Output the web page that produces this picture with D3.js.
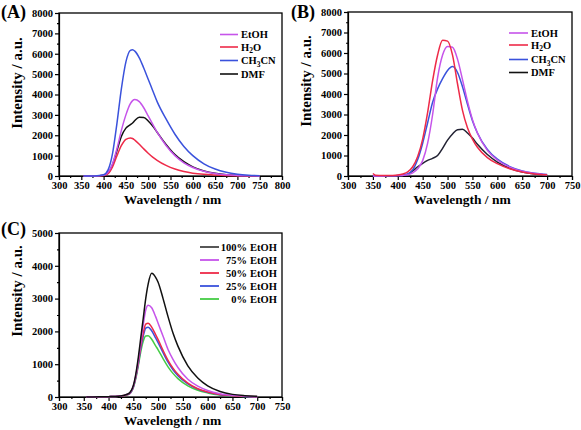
<!DOCTYPE html>
<html><head><meta charset="utf-8">
<script src="https://cdn.jsdelivr.net/npm/d3@7"></script>
<style>body{margin:0;background:#fff}svg{display:block}text{font-family:"Liberation Serif","Times New Roman",serif;font-weight:bold}</style>
</head><body><svg id="c" width="581" height="430"></svg>
<script>
// ---------- Data ----------
const wlA = [355,380,400,410,420,430,440,450,460,465,470,480,490,500,510,520,540,560,580,600,625,650,675,700,725,750];
const aEtOH  = [0,5,40,180,600,1350,2250,3000,3550,3700,3750,3650,3350,2950,2550,2150,1500,1000,650,420,230,120,60,30,10,5];
const aH2O   = [0,5,30,120,450,1000,1500,1800,1870,1840,1760,1560,1330,1120,930,770,520,340,220,140,80,45,20,10,5,0];
const aCH3CN = [0,5,60,300,1100,2600,4300,5600,6170,6200,6130,5800,5300,4750,4200,3650,2800,2050,1450,1000,600,340,180,90,40,15];
const aDMF   = [0,5,30,150,550,1250,1950,2350,2520,2600,2720,2880,2870,2700,2450,2150,1550,1050,700,450,250,130,60,30,10,5];

const wlB = [350,355,370,390,400,410,420,430,440,450,460,470,480,490,500,510,520,530,540,550,560,580,600,625,650,675,700];
const bH2O   = [120,40,20,30,50,100,200,450,950,1800,3100,4650,5900,6620,6580,5900,4500,3200,2350,1800,1400,900,600,350,190,100,55];
const bEtOH  = [0,0,5,10,20,30,60,150,350,750,1600,3000,4800,5900,6320,6280,5700,4700,3650,2750,2100,1250,780,430,230,120,60];
const bCH3CN = [0,0,5,10,20,40,100,300,800,1600,2600,3600,4250,4750,5150,5340,5050,4350,3500,2700,2100,1300,820,460,250,130,70];
const bDMF   = [0,0,5,10,10,20,80,250,450,620,760,860,1000,1350,1750,2050,2260,2280,2100,1850,1550,1050,680,380,200,100,50];

const wlC = [355,380,400,420,440,450,455,460,465,470,475,480,487,495,500,510,520,530,540,560,580,600,625,650,675,700];
const c100 = [0,5,10,20,100,350,700,1200,1800,2400,3000,3450,3770,3650,3500,3000,2450,1950,1550,950,580,340,170,80,40,20];
const c75  = [0,5,10,20,90,330,650,1100,1650,2200,2650,2800,2720,2450,2250,1850,1450,1150,900,540,330,200,100,50,25,10];
const c50  = [0,5,10,20,85,320,620,1050,1550,1950,2220,2250,2130,1900,1750,1420,1120,880,690,420,250,150,75,40,20,10];
const c25  = [0,5,10,20,80,300,600,1000,1480,1850,2100,2130,2020,1800,1660,1350,1060,830,650,400,240,145,72,38,18,8];
const c0   = [0,5,10,20,75,280,560,950,1380,1700,1860,1870,1760,1560,1440,1170,920,720,560,340,205,125,62,32,15,7];

const xTicksA = [300,350,400,450,500,550,600,650,700,750,800];
const xTicksBC = [300,350,400,450,500,550,600,650,700,750];
const yTicksAB = [0,1000,2000,3000,4000,5000,6000,7000,8000];
const yTicksC = [0,1000,2000,3000,4000,5000];

const legendAB = [["EtOH","#c654ea"],["H2O","#ee2a48"],["CH3CN","#3a52dc"],["DMF","#111111"]];
const legendCpct = ["100%","75%","50%","25%","0%"];
const legendCcol = ["#444444","#c654ea","#ee2a48","#3a52dc","#44cc44"];

// ---------- Drawing ----------
const svg = d3.select("#c");

function panel(o){
  const g = svg.append("g");
  const x = d3.scaleLinear().domain(o.xDom).range([o.x0,o.x1]);
  const y = d3.scaleLinear().domain(o.yDom).range([o.y1,o.y0]);
  const xStep = o.xTicks[1]-o.xTicks[0], yStep = o.yTicks[1]-o.yTicks[0];
  const xMinor = o.xTicks.slice(0,-1).map(v=>v+xStep/2);
  const yMinor = o.yTicks.slice(0,-1).map(v=>v+yStep/2);
  g.append("g").attr("transform",`translate(0,${o.y1})`)
    .call(d3.axisBottom(x).tickValues(xMinor).tickSize(2).tickFormat(""))
    .call(a=>a.select(".domain").remove());
  g.append("g").attr("transform",`translate(${o.x0},0)`)
    .call(d3.axisLeft(y).tickValues(yMinor).tickSize(2).tickFormat(""))
    .call(a=>a.select(".domain").remove());
  const xa = g.append("g").attr("transform",`translate(0,${o.y1})`)
    .call(d3.axisBottom(x).tickValues(o.xTicks).tickSize(4).tickPadding(2).tickFormat(d3.format("d")));
  const ya = g.append("g").attr("transform",`translate(${o.x0},0)`)
    .call(d3.axisLeft(y).tickValues(o.yTicks).tickSize(4).tickPadding(2).tickFormat(d3.format("d")));
  [xa,ya].forEach(a=>{a.selectAll("text").style("font-family","Liberation Serif").style("font-weight","bold").style("font-size","10.5px").attr("fill","#000");});
  g.selectAll(".tick line").attr("stroke","#000").attr("stroke-width",1.2);
  g.selectAll(".domain").attr("stroke","#000").attr("stroke-width",1.2);
  g.append("rect").attr("x",o.x0).attr("y",o.y0).attr("width",o.x1-o.x0).attr("height",o.y1-o.y0)
    .attr("fill","none").attr("stroke","#000").attr("stroke-width",1.3);
  const line = d3.line().curve(d3.curveMonotoneX).x(d=>x(d[0])).y(d=>y(d[1]));
  o.series.forEach(s=>{
    g.append("path").datum(s.wl.map((w,i)=>[w,s.v[i]])).attr("d",line)
      .attr("fill","none").attr("stroke",s.c).attr("stroke-width",1.5);
  });
  g.append("text").attr("x",(o.x0+o.x1)/2+2).attr("y",o.y1+28).attr("text-anchor","middle")
    .style("font-size","13.5px").text("Wavelength / nm");
  g.append("text").attr("transform",`translate(${o.x0-37},${o.ty}) rotate(-90)`).attr("text-anchor","middle")
    .style("font-size","15px").text("Intensity / a.u.");
  g.append("text").attr("x",o.lx).attr("y",o.ly).style("font-size","18px").text(o.label);
  return {g,x,y};
}

function subText(sel, label){
  const m = label.match(/^([A-Z]+)(\d)(.*)$/);
  if(m){
    sel.append("tspan").text(m[1]);
    sel.append("tspan").attr("dy",2.5).style("font-size","7.5px").text(m[2]);
    sel.append("tspan").attr("dy",-2.5).text(m[3]);
  } else sel.text(label);
}

function legendAB_(g, lx0, lx1, tx, ys){
  legendAB.forEach((it,i)=>{
    g.append("line").attr("x1",lx0).attr("x2",lx1).attr("y1",ys[i]).attr("y2",ys[i]).attr("stroke",it[1]).attr("stroke-width",1.6);
    const t = g.append("text").attr("x",tx).attr("y",ys[i]+3.5).style("font-size","10.5px");
    subText(t,it[0]);
  });
}

const A = panel({x0:59,x1:282,y0:13,y1:176,xDom:[300,800],yDom:[0,8000],xTicks:xTicksA,yTicks:yTicksAB,
  label:"(A)",lx:1,ly:18,ty:83,
  series:[{wl:wlA,v:aDMF,c:"#111111"},{wl:wlA,v:aH2O,c:"#ee2a48"},{wl:wlA,v:aEtOH,c:"#c654ea"},{wl:wlA,v:aCH3CN,c:"#3a52dc"}]});
legendAB_(A.g, 220, 238, 241, [34.5,47,60.5,74]);

const B = panel({x0:348,x1:572,y0:12,y1:176,xDom:[300,750],yDom:[0,8000],xTicks:xTicksBC,yTicks:yTicksAB,
  label:"(B)",lx:291,ly:18,ty:81,
  series:[{wl:wlB,v:bDMF,c:"#222233"},{wl:wlB,v:bCH3CN,c:"#3a52dc"},{wl:wlB,v:bEtOH,c:"#c654ea"},{wl:wlB,v:bH2O,c:"#ee2a48"}]});
legendAB_(B.g, 509, 528, 531, [33,45,59.5,72.5]);

const C = panel({x0:59,x1:282,y0:233,y1:397,xDom:[300,750],yDom:[0,5000],xTicks:xTicksBC,yTicks:yTicksC,
  label:"(C)",lx:1,ly:235,ty:291,
  series:[{wl:wlC,v:c0,c:"#44cc44"},{wl:wlC,v:c25,c:"#3a52dc"},{wl:wlC,v:c50,c:"#ee2a48"},{wl:wlC,v:c75,c:"#c654ea"},{wl:wlC,v:c100,c:"#111111"}]});
const ysC = [247,260,273,286,299];
legendCpct.forEach((p,i)=>{
  C.g.append("line").attr("x1",200).attr("x2",219).attr("y1",ysC[i]).attr("y2",ysC[i]).attr("stroke",legendCcol[i]).attr("stroke-width",1.8);
  C.g.append("text").attr("x",247).attr("y",ysC[i]+3.5).attr("text-anchor","end").style("font-size","10.5px").text(p);
  C.g.append("text").attr("x",250).attr("y",ysC[i]+3.5).style("font-size","10.5px").text("EtOH");
});
</script></body></html>
